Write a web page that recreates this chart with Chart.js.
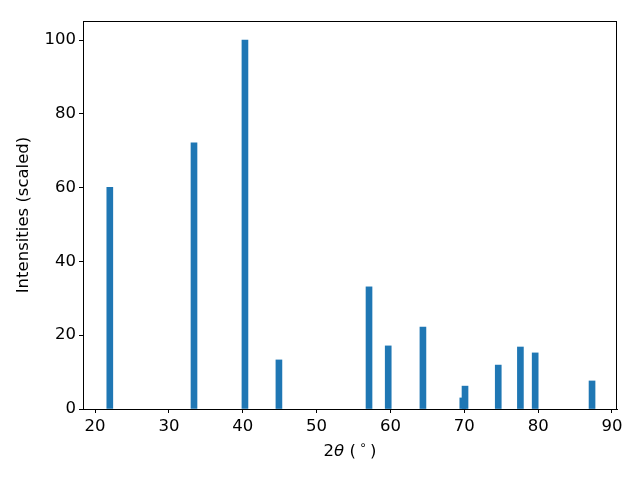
<!DOCTYPE html>
<html>
<head>
<meta charset="utf-8">
<script src="https://cdn.jsdelivr.net/npm/chart.js@4"></script>
<style>
html,body{margin:0;padding:0;background:#fff;}
#wrap{width:640px;height:480px;}
</style>
</head>
<body>
<div id="wrap"><canvas id="c" width="640" height="480"></canvas></div>
<script>
const twoTheta = [22.0, 33.4, 40.3, 44.9, 57.1, 59.7, 64.4, 69.8, 70.1, 74.6, 77.6, 79.6, 87.3];
const intensities = [60.1, 72.1, 100, 13.3, 33.1, 17.1, 22.2, 3.0, 6.2, 11.9, 16.8, 15.2, 7.6];
const xTicks = [20, 30, 40, 50, 60, 70, 80, 90];
const yTicks = [0, 20, 40, 60, 80, 100];
const yLabel = 'Intensities (scaled)';

const FONT = 'DejaVu Sans';
const FS = 16.5;

const frame = {
  id: 'frame',
  afterDraw(chart) {
    const {ctx, chartArea: a} = chart;
    ctx.save();
    ctx.strokeStyle = '#000';
    ctx.lineWidth = 1;
    ctx.strokeRect(Math.round(a.left) + 0.5, Math.round(a.top) + 0.5,
                   Math.round(a.right - a.left) - 1, Math.round(a.bottom - a.top));
    // x label: 2θ (°)
    const cx = (a.left + a.right) / 2;
    const y = 452;
    const parts = [
      {t: '2', f: `${FS}px "${FONT}"`, dy: 0},
      {t: 'θ', f: `italic ${FS}px "${FONT}"`, dy: 0},
      {t: ' (\u2009', f: `${FS}px "${FONT}"`, dy: 0},
      {t: '∘', f: `${Math.round(FS*0.7)}px "${FONT}"`, dy: -6},
      {t: '\u2009)', f: `${FS}px "${FONT}"`, dy: 0}
    ];
    let w = 0;
    parts.forEach(p => { ctx.font = p.f; p.w = ctx.measureText(p.t).width; w += p.w; });
    let x = cx - w / 2;
    ctx.fillStyle = '#000';
    ctx.textBaseline = 'middle';
    ctx.textAlign = 'left';
    parts.forEach(p => { ctx.font = p.f; ctx.fillText(p.t, x, y + p.dy); x += p.w; });
    ctx.restore();
  }
};

new Chart(document.getElementById('c'), {
  type: 'bar',
  data: {
    datasets: [{
      data: twoTheta.map((x, i) => ({x: x, y: intensities[i]})),
      backgroundColor: '#1f77b4',
      borderWidth: 0,
      barThickness: 6
    }]
  },
  options: {
    responsive: false,
    animation: false,
    devicePixelRatio: 1,
    layout: {padding: {top: 21, right: 23, left: 0, bottom: 0}},
    plugins: {legend: {display: false}, tooltip: {enabled: false}},
    scales: {
      x: {
        type: 'linear',
        offset: false,
        min: 18.37,
        max: 90.68,
        afterFit(s) { s.height = 71; },
        afterBuildTicks(s) { s.ticks = xTicks.map(v => ({value: v})); },
        grid: {display: true, offset: false, drawOnChartArea: false, drawTicks: true, tickLength: 4, color: '#000'},
        border: {display: true, color: '#000'},
        ticks: {font: {family: FONT, size: FS}, color: '#000', padding: 4, maxRotation: 0}
      },
      y: {
        type: 'linear',
        min: 0,
        max: 105.15,
        afterFit(s) { s.width = 83; },
        afterBuildTicks(s) { s.ticks = yTicks.map(v => ({value: v})); },
        grid: {display: true, drawOnChartArea: false, drawTicks: true, tickLength: 4, color: '#000'},
        border: {display: true, color: '#000'},
        ticks: {font: {family: FONT, size: FS}, color: '#000', padding: 3},
        title: {display: true, text: yLabel, font: {family: FONT, size: FS}, color: '#000', padding: {top: 14, bottom: 0}}
      }
    }
  },
  plugins: [frame]
});
</script>
</body>
</html>
